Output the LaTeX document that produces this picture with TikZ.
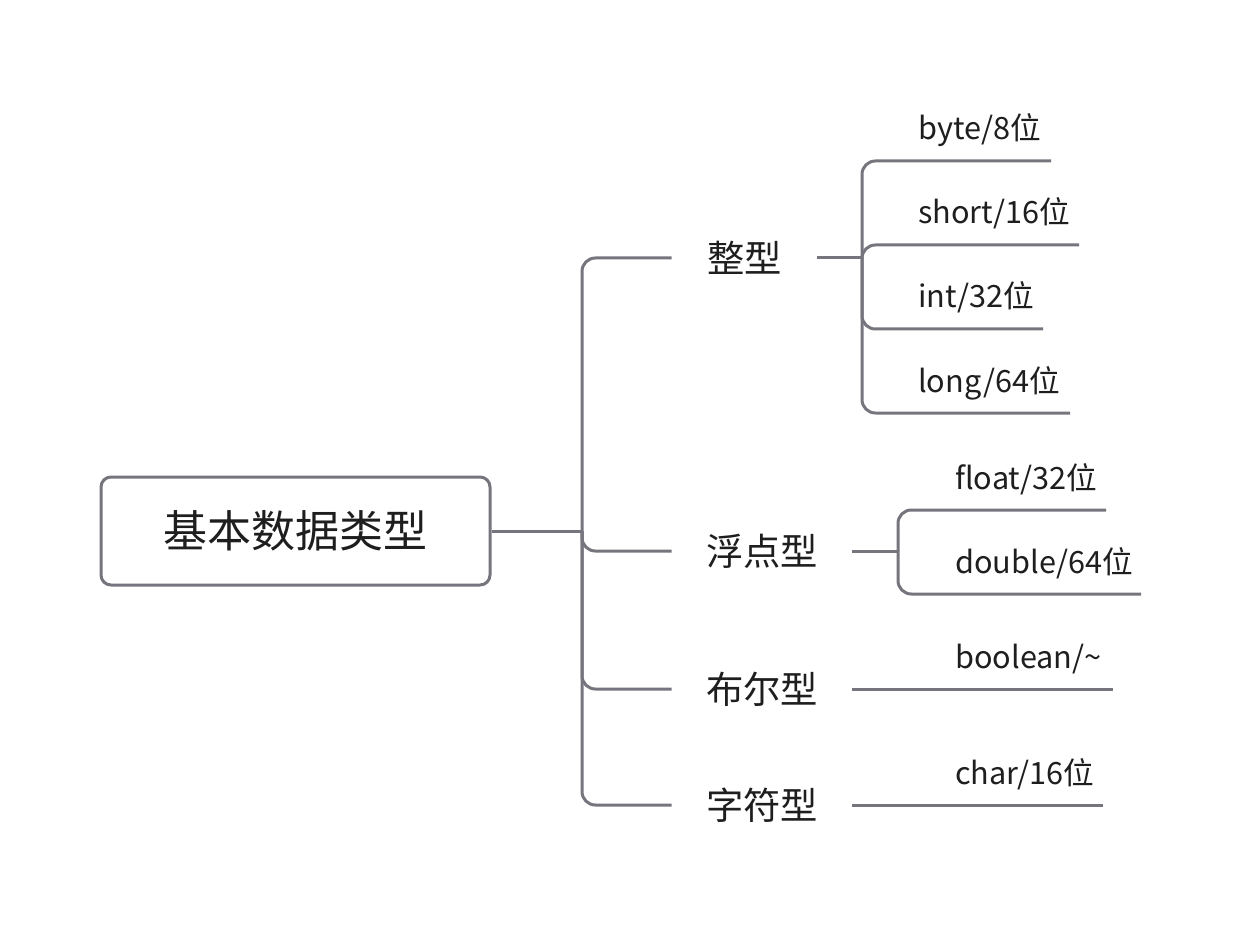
\documentclass[tikz,border=0pt]{standalone}
\usepackage{fontspec}
\setmainfont{Noto Sans CJK SC}
\definecolor{ln}{RGB}{118,117,126}
\definecolor{tx}{RGB}{30,30,30}
\begin{document}
\begin{tikzpicture}[x=0.75pt,y=-0.75pt,
  conn/.style={draw=ln,line width=2.25pt,rounded corners=10pt},
  rootbox/.style={draw=ln,line width=2.25pt,rounded corners=7.5pt,minimum width=291.75pt,minimum height=81pt,inner sep=0pt,font=\fontsize{33}{40}\selectfont,text=tx},
  branch/.style={inner sep=0pt,font=\fontsize{28}{34}\selectfont,text=tx},
  leaf/.style={inner sep=0pt,anchor=base west,font=\fontsize{23}{28}\selectfont,text=tx}]
\useasboundingbox[fill=white] (0,0) rectangle (1241,948);
% root
\node[rootbox] (root) at (295.5,531) {基本数据类型};
\coordinate (t) at (582,531);
\draw[conn] (root.east) -- (t);
% branches
\node[branch,minimum width=108.75pt] (zx) at (744.5,258) {整型};
\node[branch,minimum width=135pt] (fd) at (762,551) {浮点型};
\node[branch,minimum width=135pt] (be) at (762,689) {布尔型};
\node[branch,minimum width=135pt] (zf) at (762,805) {字符型};
\draw[conn] (t) |- (zx.west);
\draw[conn] (t) |- (fd.west);
\draw[conn] (t) |- (be.west);
\draw[conn] (t) |- (zf.west);
% integer leaves
\coordinate (zt) at (862,258);
\draw[conn] (zx.east) -- (zt);
\coordinate (byteE) at (1051,161);
\coordinate (shortE) at (1079,245);
\coordinate (intE) at (1043,329);
\coordinate (longE) at (1070,413);
\node[leaf] (byte) at (918,140) {byte/8位};
\node[leaf] (short) at (918,224) {short/16位};
\node[leaf] (int) at (918,308) {int/32位};
\node[leaf] (long) at (918,392) {long/64位};
\draw[conn] (zt) |- (byteE);
\draw[conn] (zt) |- (shortE);
\draw[conn] (zt) |- (intE);
\draw[conn] (zt) |- (longE);
% float leaves
\coordinate (ft) at (898,551);
\draw[conn] (fd.east) -- (ft);
\coordinate (floatE) at (1106,510);
\coordinate (doubleE) at (1141,594);
\node[leaf] (float) at (955,489) {float/32位};
\node[leaf] (double) at (955,573) {double/64位};
\draw[conn] (ft) |- (floatE);
\draw[conn] (ft) |- (doubleE);
% boolean leaf
\coordinate (boolE) at (1113,689);
\node[leaf] (bool) at (955,668) {boolean/\textasciitilde};
\draw[conn] (be.east) -- (boolE);
% char leaf
\coordinate (charE) at (1103,805);
\node[leaf] (char) at (955,784) {char/16位};
\draw[conn] (zf.east) -- (charE);
\end{tikzpicture}
\end{document}
